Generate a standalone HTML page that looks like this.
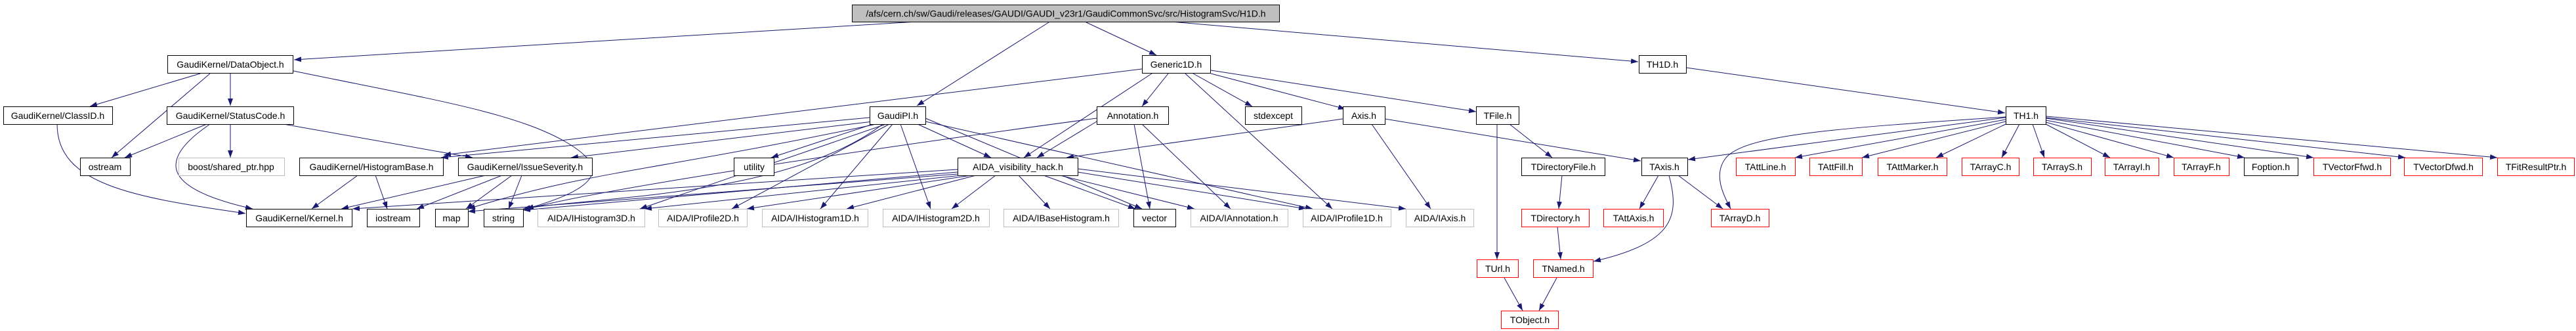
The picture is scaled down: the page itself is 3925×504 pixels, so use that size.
<!DOCTYPE html>
<html><head><meta charset="utf-8"><style>
html,body{margin:0;padding:0;background:#fff;}
svg{display:block;}
text{font-family:"Liberation Sans",sans-serif;font-size:14px;fill:#000;}
</style></head><body>
<svg width="3925" height="504" viewBox="0 0 3925 504" xmlns="http://www.w3.org/2000/svg">
<defs>
<marker id="a" markerUnits="userSpaceOnUse" markerWidth="12" markerHeight="8" refX="11" refY="4" orient="auto">
<path d="M0,0 L11,4 L0,8 z" fill="#191970"/></marker>
</defs>
<g stroke="#191970" stroke-width="1" fill="none" marker-end="url(#a)">
<line x1="1397" y1="33" x2="448" y2="91"/>
<line x1="1598" y1="34" x2="1397" y2="161"/>
<line x1="1655" y1="34" x2="1762" y2="84"/>
<line x1="1784" y1="33" x2="2496" y2="94"/>
<line x1="305" y1="112" x2="137" y2="162"/>
<line x1="320" y1="112" x2="170" y2="240"/>
<line x1="351" y1="112" x2="351" y2="161"/>
<path d="M447,108 C650,150 780,170 860,215 C940,260 900,290 802,318"/>
<path d="M87,189 C87,280 200,300 374,325"/>
<line x1="315" y1="189" x2="190" y2="240"/>
<line x1="351" y1="189" x2="351" y2="240"/>
<path d="M320,189 C230,250 260,290 385,318"/>
<line x1="432" y1="189" x2="720" y2="240"/>
<line x1="545" y1="267" x2="475" y2="318"/>
<line x1="572" y1="267" x2="590" y2="318"/>
<line x1="740" y1="267" x2="520" y2="318"/>
<line x1="765" y1="267" x2="635" y2="318"/>
<line x1="780" y1="267" x2="710" y2="318"/>
<line x1="795" y1="267" x2="775" y2="318"/>
<line x1="1325" y1="179" x2="672" y2="240"/>
<line x1="1330" y1="185" x2="870" y2="240"/>
<line x1="1330" y1="189" x2="1175" y2="240"/>
<path d="M1335,189 C1000,260 900,260 713,318"/>
<path d="M1345,189 C1200,300 900,300 797,318"/>
<line x1="1350" y1="189" x2="975" y2="318"/>
<line x1="1355" y1="189" x2="1115" y2="318"/>
<line x1="1360" y1="189" x2="1250" y2="318"/>
<line x1="1372" y1="189" x2="1418" y2="318"/>
<line x1="1398" y1="189" x2="1510" y2="240"/>
<line x1="1410" y1="185" x2="2000" y2="318"/>
<line x1="1410" y1="180" x2="1740" y2="318"/>
<line x1="1740" y1="105" x2="676" y2="236"/>
<line x1="1755" y1="112" x2="1560" y2="240"/>
<line x1="1780" y1="112" x2="1740" y2="162"/>
<line x1="1806" y1="112" x2="2030" y2="318"/>
<line x1="1818" y1="112" x2="1908" y2="162"/>
<line x1="1845" y1="112" x2="2050" y2="166"/>
<line x1="1845" y1="107" x2="2249" y2="170"/>
<line x1="1671" y1="185" x2="1580" y2="240"/>
<path d="M1671,180 C1300,230 900,290 797,320"/>
<line x1="1728" y1="189" x2="1752" y2="318"/>
<line x1="1740" y1="189" x2="1875" y2="318"/>
<line x1="1459" y1="258" x2="537" y2="318"/>
<line x1="1459" y1="262" x2="797" y2="320"/>
<line x1="1459" y1="265" x2="713" y2="322"/>
<line x1="1465" y1="267" x2="982" y2="318"/>
<line x1="1480" y1="267" x2="1138" y2="318"/>
<line x1="1487" y1="267" x2="1290" y2="318"/>
<line x1="1517" y1="267" x2="1450" y2="318"/>
<line x1="1552" y1="267" x2="1600" y2="318"/>
<line x1="1590" y1="267" x2="1730" y2="318"/>
<line x1="1615" y1="267" x2="1820" y2="318"/>
<line x1="1642" y1="262" x2="1990" y2="318"/>
<line x1="1642" y1="257" x2="2142" y2="318"/>
<line x1="2046" y1="181" x2="1625" y2="240"/>
<line x1="2090" y1="189" x2="2180" y2="318"/>
<line x1="2110" y1="181" x2="2500" y2="245"/>
<line x1="2281" y1="189" x2="2281" y2="395"/>
<line x1="2300" y1="189" x2="2365" y2="240"/>
<line x1="2380" y1="267" x2="2375" y2="318"/>
<line x1="2373" y1="345" x2="2378" y2="395"/>
<line x1="2372" y1="423" x2="2345" y2="473"/>
<line x1="2292" y1="423" x2="2320" y2="473"/>
<line x1="2527" y1="267" x2="2498" y2="318"/>
<line x1="2557" y1="267" x2="2625" y2="318"/>
<path d="M2543,267 C2560,330 2550,370 2428,398"/>
<line x1="2569" y1="103" x2="3055" y2="172"/>
<line x1="3056" y1="179" x2="2572" y2="243"/>
<path d="M3056,178 C2800,195 2660,205 2630,240 C2610,265 2625,295 2637,318"/>
<line x1="3056" y1="182" x2="2735" y2="240"/>
<line x1="3056" y1="185" x2="2837" y2="240"/>
<line x1="3056" y1="189" x2="2950" y2="240"/>
<line x1="3077" y1="189" x2="3050" y2="240"/>
<line x1="3097" y1="189" x2="3115" y2="240"/>
<line x1="3117" y1="189" x2="3215" y2="240"/>
<line x1="3117" y1="186" x2="3312" y2="240"/>
<line x1="3117" y1="183" x2="3420" y2="240"/>
<line x1="3117" y1="180" x2="3525" y2="240"/>
<line x1="3117" y1="179" x2="3665" y2="240"/>
<line x1="3117" y1="177" x2="3805" y2="240"/>
</g>
<g stroke-width="1">
<rect x="1298.5" y="7.5" width="651" height="26" fill="#bfbfbf" stroke="#000"/>
<text x="1624" y="25.5" text-anchor="middle">/afs/cern.ch/sw/Gaudi/releases/GAUDI/GAUDI_v23r1/GaudiCommonSvc/src/HistogramSvc/H1D.h</text>
</g>
<g fill="#fff" stroke="#000">
<rect x="255.5" y="84.5" width="191" height="27"/>
<rect x="1740.5" y="84.5" width="104" height="27"/>
<rect x="2497.5" y="84.5" width="72" height="27"/>
<rect x="5.5" y="162.5" width="166" height="27"/>
<rect x="254.5" y="162.5" width="193" height="27"/>
<rect x="1325.5" y="162.5" width="85" height="27"/>
<rect x="1671.5" y="162.5" width="109" height="27"/>
<rect x="1897.5" y="162.5" width="86" height="27"/>
<rect x="2046.5" y="162.5" width="64" height="27"/>
<rect x="2249.5" y="162.5" width="65" height="27"/>
<rect x="3056.5" y="162.5" width="61" height="27"/>
<rect x="122.5" y="240.5" width="76" height="27"/>
<rect x="456.5" y="240.5" width="219" height="27"/>
<rect x="698.5" y="240.5" width="204" height="27"/>
<rect x="1118.5" y="240.5" width="61" height="27"/>
<rect x="1459.5" y="240.5" width="183" height="27"/>
<rect x="2318.5" y="240.5" width="127" height="27"/>
<rect x="2501.5" y="240.5" width="70" height="27"/>
<rect x="3419.5" y="240.5" width="82" height="27"/>
<rect x="375.5" y="318.5" width="161" height="27"/>
<rect x="559.5" y="318.5" width="80" height="27"/>
<rect x="663.5" y="318.5" width="50" height="27"/>
<rect x="737.5" y="318.5" width="60" height="27"/>
<rect x="1727.5" y="318.5" width="64" height="27"/>
</g>
<g fill="#fff" stroke="#bfbfbf">
<rect x="272.5" y="240.5" width="161" height="27"/>
<rect x="819.5" y="318.5" width="163" height="27"/>
<rect x="1003.5" y="318.5" width="135" height="27"/>
<rect x="1161.5" y="318.5" width="161" height="27"/>
<rect x="1345.5" y="318.5" width="162" height="27"/>
<rect x="1529.5" y="318.5" width="175" height="27"/>
<rect x="1814.5" y="318.5" width="148" height="27"/>
<rect x="1985.5" y="318.5" width="134" height="27"/>
<rect x="2142.5" y="318.5" width="103" height="27"/>
</g>
<g fill="#fff" stroke="#ff0000">
<rect x="2645.5" y="240.5" width="90" height="27"/>
<rect x="2757.5" y="240.5" width="80" height="27"/>
<rect x="2861.5" y="240.5" width="105" height="27"/>
<rect x="2989.5" y="240.5" width="87" height="27"/>
<rect x="3098.5" y="240.5" width="88" height="27"/>
<rect x="3207.5" y="240.5" width="82" height="27"/>
<rect x="3312.5" y="240.5" width="84" height="27"/>
<rect x="3525.5" y="240.5" width="117" height="27"/>
<rect x="3663.5" y="240.5" width="119" height="27"/>
<rect x="3805.5" y="240.5" width="117" height="27"/>
<rect x="2318.5" y="318.5" width="103" height="27"/>
<rect x="2443.5" y="318.5" width="91" height="27"/>
<rect x="2607.5" y="318.5" width="88" height="27"/>
<rect x="2250.5" y="395.5" width="63" height="27"/>
<rect x="2336.5" y="395.5" width="91" height="27"/>
<rect x="2287.5" y="473.5" width="87" height="27"/>
</g>
<g text-anchor="middle">
<text x="351" y="103">GaudiKernel/DataObject.h</text>
<text x="1792" y="103">Generic1D.h</text>
<text x="2533" y="103">TH1D.h</text>
<text x="88" y="181">GaudiKernel/ClassID.h</text>
<text x="351" y="181">GaudiKernel/StatusCode.h</text>
<text x="1368" y="181">GaudiPI.h</text>
<text x="1726" y="181">Annotation.h</text>
<text x="1940" y="181">stdexcept</text>
<text x="2078" y="181">Axis.h</text>
<text x="2282" y="181">TFile.h</text>
<text x="3087" y="181">TH1.h</text>
<text x="160" y="259">ostream</text>
<text x="352" y="259">boost/shared_ptr.hpp</text>
<text x="566" y="259">GaudiKernel/HistogramBase.h</text>
<text x="800" y="259">GaudiKernel/IssueSeverity.h</text>
<text x="1149" y="259">utility</text>
<text x="1551" y="259">AIDA_visibility_hack.h</text>
<text x="2382" y="259">TDirectoryFile.h</text>
<text x="2536" y="259">TAxis.h</text>
<text x="2690" y="259">TAttLine.h</text>
<text x="2797" y="259">TAttFill.h</text>
<text x="2914" y="259">TAttMarker.h</text>
<text x="3033" y="259">TArrayC.h</text>
<text x="3142" y="259">TArrayS.h</text>
<text x="3248" y="259">TArrayI.h</text>
<text x="3354" y="259">TArrayF.h</text>
<text x="3460" y="259">Foption.h</text>
<text x="3584" y="259">TVectorFfwd.h</text>
<text x="3723" y="259">TVectorDfwd.h</text>
<text x="3864" y="259">TFitResultPtr.h</text>
<text x="456" y="337">GaudiKernel/Kernel.h</text>
<text x="599" y="337">iostream</text>
<text x="688" y="337">map</text>
<text x="767" y="337">string</text>
<text x="901" y="337">AIDA/IHistogram3D.h</text>
<text x="1071" y="337">AIDA/IProfile2D.h</text>
<text x="1242" y="337">AIDA/IHistogram1D.h</text>
<text x="1426" y="337">AIDA/IHistogram2D.h</text>
<text x="1617" y="337">AIDA/IBaseHistogram.h</text>
<text x="1759" y="337">vector</text>
<text x="1888" y="337">AIDA/IAnnotation.h</text>
<text x="2052" y="337">AIDA/IProfile1D.h</text>
<text x="2194" y="337">AIDA/IAxis.h</text>
<text x="2370" y="337">TDirectory.h</text>
<text x="2489" y="337">TAttAxis.h</text>
<text x="2651" y="337">TArrayD.h</text>
<text x="2282" y="414">TUrl.h</text>
<text x="2382" y="414">TNamed.h</text>
<text x="2331" y="492">TObject.h</text>
</g>
</svg>
</body></html>
